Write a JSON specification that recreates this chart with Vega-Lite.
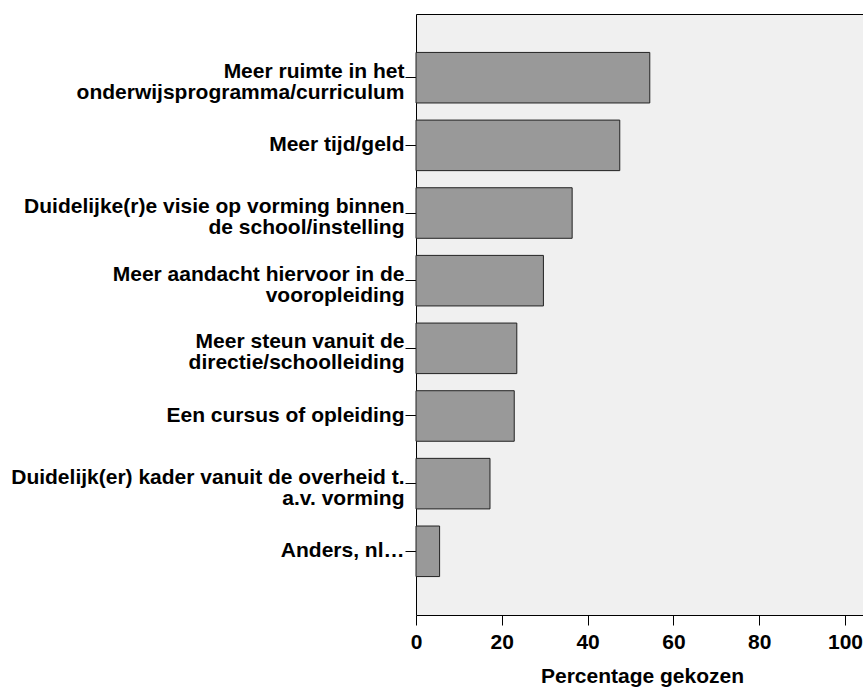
{
  "$schema": "https://vega.github.io/schema/vega-lite/v6.json",
  "autosize": {"type": "none"},
  "padding": {"left": 416, "top": 14, "right": 0, "bottom": 74},
  "width": 447,
  "height": 601,
  "background": "white",
  "config": {
    "view": {"fill": "#f0f0f0", "stroke": null},
    "font": "Liberation Sans"
  },
  "data": {
    "values": [
      {"categorie": "Meer ruimte in het|onderwijsprogramma/curriculum", "pct": 54.5},
      {"categorie": "Meer tijd/geld", "pct": 47.5},
      {"categorie": "Duidelijke(r)e visie op vorming binnen|de school/instelling", "pct": 36.4},
      {"categorie": "Meer aandacht hiervoor in de|vooropleiding", "pct": 29.7},
      {"categorie": "Meer steun vanuit de|directie/schoolleiding", "pct": 23.5},
      {"categorie": "Een cursus of opleiding", "pct": 22.9},
      {"categorie": "Duidelijk(er) kader vanuit de overheid t.|a.v. vorming", "pct": 17.25},
      {"categorie": "Anders, nl…", "pct": 5.5}
    ]
  },
  "resolve": {"axis": {"x": "independent"}},
  "layer": [
    {
      "mark": {"type": "bar", "fill": "#999999", "stroke": "#222222", "strokeWidth": 1},
      "encoding": {
        "y": {
          "field": "categorie",
          "type": "nominal",
          "sort": null,
          "scale": {"paddingInner": 0.253, "paddingOuter": 0.568},
          "axis": {
            "title": null,
            "labelExpr": "split(datum.value, '|')",
            "labelFont": "Liberation Sans",
            "labelFontSize": 21,
            "labelFontWeight": "bold",
            "labelColor": "black",
            "labelLineHeight": 21,
            "labelLimit": 420,
            "labelAlign": "right",
            "labelBaseline": {"condition": {"test": "indexof(datum.value, '|') >= 0", "value": "alphabetic"}, "value": "middle"},
            "labelPadding": 1,
            "tickSize": 11,
            "tickColor": "black",
            "tickWidth": 1,
            "domainColor": "black",
            "domainWidth": 1
          }
        },
        "x": {
          "field": "pct",
          "type": "quantitative",
          "scale": {"domain": [0, 104.2], "nice": false},
          "axis": {
            "title": "Percentage gekozen",
            "titleFont": "Liberation Sans",
            "titleFontSize": 21,
            "titleFontWeight": "bold",
            "titleColor": "black",
            "titleX": 226,
            "titleY": 67,
            "titleBaseline": "alphabetic",
            "titleAnchor": "middle",
            "values": [0, 20, 40, 60, 80, 100],
            "grid": false,
            "labelFont": "Liberation Sans",
            "labelFontSize": 21,
            "labelFontWeight": "bold",
            "labelColor": "black",
            "labelPadding": 6,
            "labelFlush": false,
            "labelOverlap": false,
            "tickSize": 10,
            "tickColor": "black",
            "domainColor": "black",
            "domainWidth": 1
          }
        }
      }
    },
    {
      "mark": {"type": "bar", "fillOpacity": 0, "strokeOpacity": 0},
      "encoding": {
        "y": {"field": "categorie", "type": "nominal", "sort": null},
        "x": {
          "field": "pct",
          "type": "quantitative",
          "axis": {
            "orient": "top",
            "title": null,
            "labels": false,
            "ticks": false,
            "grid": false,
            "domainColor": "black",
            "domainWidth": 1
          }
        }
      }
    }
  ]
}
